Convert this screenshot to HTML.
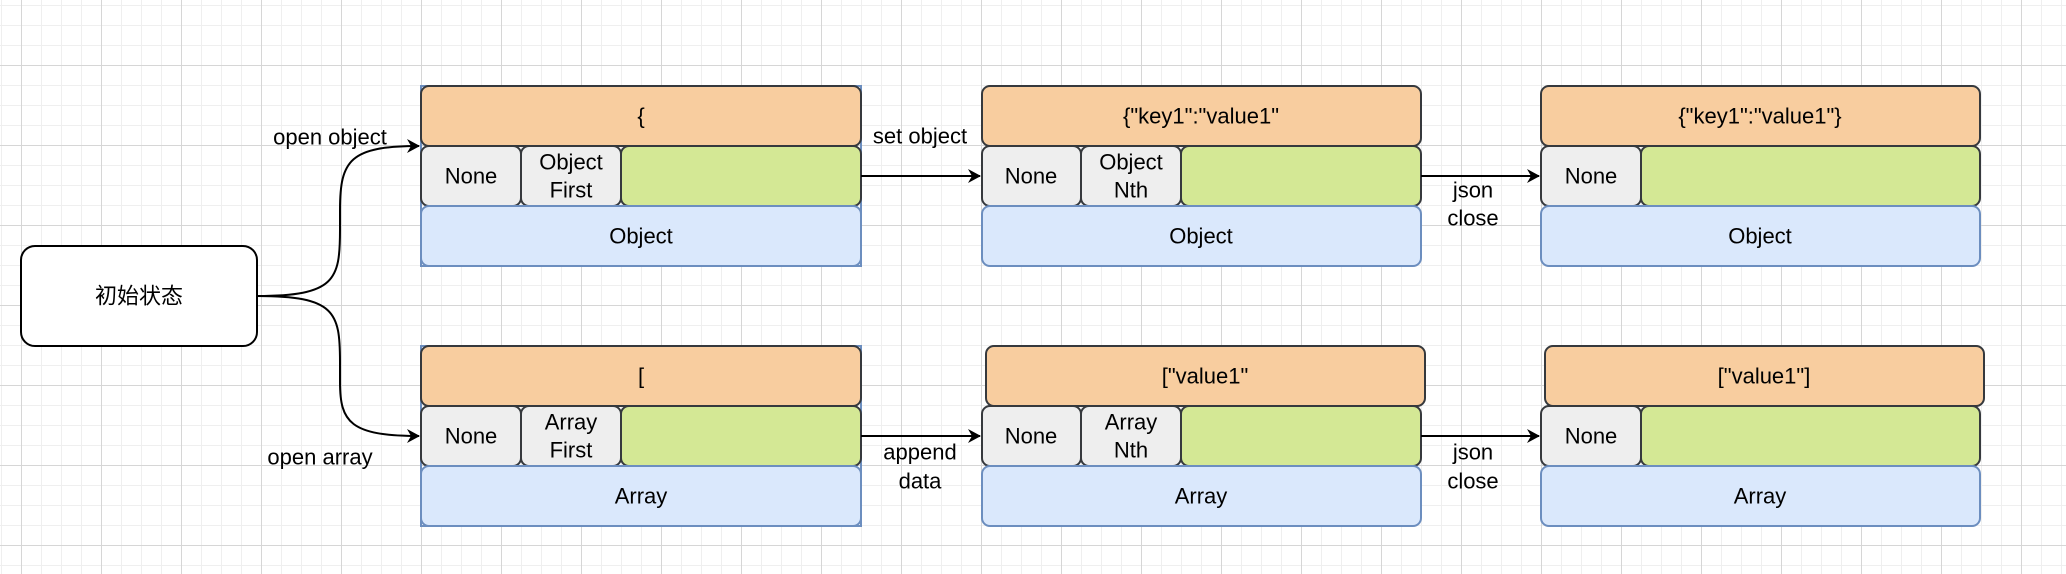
<!DOCTYPE html>
<html><head><meta charset="utf-8"><style>
html,body{margin:0;padding:0;background:#fff;}
svg{display:block;}
text{font-family:"Liberation Sans","Noto Sans CJK SC",sans-serif;font-size:22px;fill:#000;text-anchor:middle;dominant-baseline:central;}
</style></head><body>
<svg width="2066" height="574" viewBox="0 0 2066 574" xmlns="http://www.w3.org/2000/svg">
<defs>
<pattern id="minor" width="20" height="20" patternUnits="userSpaceOnUse" x="1" y="5">
<path d="M0 0.5H20M0.5 0V20" stroke="#efefef" stroke-width="1" fill="none"/>
</pattern>
<pattern id="major" width="80" height="80" patternUnits="userSpaceOnUse" x="21" y="65">
<path d="M0 0.5H80M0.5 0V80" stroke="#d6d6d6" stroke-width="1" fill="none"/>
</pattern>
<marker id="ah" markerWidth="14" markerHeight="14" refX="12" refY="7" orient="auto" markerUnits="userSpaceOnUse">
<path d="M0 0L13 7L0 14L4 7Z" fill="#000"/>
</marker>
</defs>
<rect width="2066" height="574" fill="url(#minor)"/>
<rect width="2066" height="574" fill="url(#major)"/>

<rect x="21" y="246" width="236" height="100" rx="14" fill="#fff" stroke="#000" stroke-width="2"/>
<text x="139" y="296">初始状态</text>

<path d="M257 296 C 335 296 340 280 340 230 L 340 210 C 340 160 350 146 419 146" fill="none" stroke="#000" stroke-width="2" marker-end="url(#ah)"/>
<path d="M257 296 C 335 296 340 312 340 362 L 340 382 C 340 422 350 436 419 436" fill="none" stroke="#000" stroke-width="2" marker-end="url(#ah)"/>
<text x="330" y="137">open object</text>
<text x="320" y="457">open array</text>

<rect x="421" y="86" width="440" height="180" fill="none" stroke="#6c8ebf" stroke-width="2"/>
<rect x="421" y="86" width="440" height="60" rx="8" fill="#f8cd9f" stroke="#36393d" stroke-width="2"/>
<text x="641" y="116">{</text>
<rect x="421" y="146" width="100" height="60" rx="8" fill="#eeeeee" stroke="#36393d" stroke-width="2"/>
<text x="471" y="176">None</text>
<rect x="521" y="146" width="100" height="60" rx="8" fill="#eeeeee" stroke="#36393d" stroke-width="2"/>
<text x="571" y="162">Object</text><text x="571" y="190">First</text>
<rect x="621" y="146" width="240" height="60" rx="8" fill="#d4e895" stroke="#36393d" stroke-width="2"/>
<rect x="421" y="206" width="440" height="60" rx="8" fill="#dae8fc" stroke="#6c8ebf" stroke-width="2"/>
<text x="641" y="236">Object</text>

<rect x="982" y="86" width="439" height="60" rx="8" fill="#f8cd9f" stroke="#36393d" stroke-width="2"/>
<text x="1201" y="116">{"key1":"value1"</text>
<rect x="982" y="146" width="99" height="60" rx="8" fill="#eeeeee" stroke="#36393d" stroke-width="2"/>
<text x="1031" y="176">None</text>
<rect x="1081" y="146" width="100" height="60" rx="8" fill="#eeeeee" stroke="#36393d" stroke-width="2"/>
<text x="1131" y="162">Object</text><text x="1131" y="190">Nth</text>
<rect x="1181" y="146" width="240" height="60" rx="8" fill="#d4e895" stroke="#36393d" stroke-width="2"/>
<rect x="982" y="206" width="439" height="60" rx="8" fill="#dae8fc" stroke="#6c8ebf" stroke-width="2"/>
<text x="1201" y="236">Object</text>

<rect x="1541" y="86" width="439" height="60" rx="8" fill="#f8cd9f" stroke="#36393d" stroke-width="2"/>
<text x="1760" y="116">{"key1":"value1"}</text>
<rect x="1541" y="146" width="100" height="60" rx="8" fill="#eeeeee" stroke="#36393d" stroke-width="2"/>
<text x="1591" y="176">None</text>
<rect x="1641" y="146" width="339" height="60" rx="8" fill="#d4e895" stroke="#36393d" stroke-width="2"/>
<rect x="1541" y="206" width="439" height="60" rx="8" fill="#dae8fc" stroke="#6c8ebf" stroke-width="2"/>
<text x="1760" y="236">Object</text>

<rect x="421" y="346" width="440" height="180" fill="none" stroke="#6c8ebf" stroke-width="2"/>
<rect x="421" y="346" width="440" height="60" rx="8" fill="#f8cd9f" stroke="#36393d" stroke-width="2"/>
<text x="641" y="376">[</text>
<rect x="421" y="406" width="100" height="60" rx="8" fill="#eeeeee" stroke="#36393d" stroke-width="2"/>
<text x="471" y="436">None</text>
<rect x="521" y="406" width="100" height="60" rx="8" fill="#eeeeee" stroke="#36393d" stroke-width="2"/>
<text x="571" y="422">Array</text><text x="571" y="450">First</text>
<rect x="621" y="406" width="240" height="60" rx="8" fill="#d4e895" stroke="#36393d" stroke-width="2"/>
<rect x="421" y="466" width="440" height="60" rx="8" fill="#dae8fc" stroke="#6c8ebf" stroke-width="2"/>
<text x="641" y="496">Array</text>

<rect x="986" y="346" width="439" height="60" rx="8" fill="#f8cd9f" stroke="#36393d" stroke-width="2"/>
<text x="1205" y="376">["value1"</text>
<rect x="982" y="406" width="99" height="60" rx="8" fill="#eeeeee" stroke="#36393d" stroke-width="2"/>
<text x="1031" y="436">None</text>
<rect x="1081" y="406" width="100" height="60" rx="8" fill="#eeeeee" stroke="#36393d" stroke-width="2"/>
<text x="1131" y="422">Array</text><text x="1131" y="450">Nth</text>
<rect x="1181" y="406" width="240" height="60" rx="8" fill="#d4e895" stroke="#36393d" stroke-width="2"/>
<rect x="982" y="466" width="439" height="60" rx="8" fill="#dae8fc" stroke="#6c8ebf" stroke-width="2"/>
<text x="1201" y="496">Array</text>

<rect x="1545" y="346" width="439" height="60" rx="8" fill="#f8cd9f" stroke="#36393d" stroke-width="2"/>
<text x="1764" y="376">["value1"]</text>
<rect x="1541" y="406" width="100" height="60" rx="8" fill="#eeeeee" stroke="#36393d" stroke-width="2"/>
<text x="1591" y="436">None</text>
<rect x="1641" y="406" width="339" height="60" rx="8" fill="#d4e895" stroke="#36393d" stroke-width="2"/>
<rect x="1541" y="466" width="439" height="60" rx="8" fill="#dae8fc" stroke="#6c8ebf" stroke-width="2"/>
<text x="1760" y="496">Array</text>

<path d="M861 176H980" stroke="#000" stroke-width="2" marker-end="url(#ah)"/>
<path d="M1421 176H1539" stroke="#000" stroke-width="2" marker-end="url(#ah)"/>
<path d="M861 436H980" stroke="#000" stroke-width="2" marker-end="url(#ah)"/>
<path d="M1421 436H1539" stroke="#000" stroke-width="2" marker-end="url(#ah)"/>
<text x="920" y="136">set object</text>
<text x="1473" y="190">json</text><text x="1473" y="218">close</text>
<text x="920" y="452">append</text><text x="920" y="481">data</text>
<text x="1473" y="452">json</text><text x="1473" y="481">close</text>
</svg>
</body></html>
